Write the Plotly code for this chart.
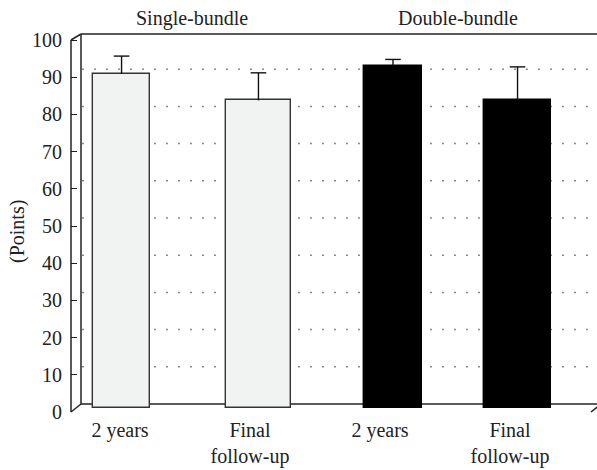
import plotly.graph_objects as go

# Scores by group and time point
categories = ["2 years", "Final<br>follow-up", "2 years", "Final<br>follow-up"]
groups = ["Single-bundle", "Double-bundle"]
scores = [89.8, 82.7, 91.9, 82.8]
score_sd = [4.8, 7.4, 1.8, 8.9]
y_ticks = list(range(0, 101, 10))

# Styling
fills = ["#f1f2f2", "#f1f2f2", "#000000", "#000000"]
outlines = ["#333333", "#333333", "#000000", "#000000"]
bar_widths = [0.44, 0.50, 0.45, 0.515]
bar_shifts = [0.012, 0.065, 0.10, 0.058]
cap_half = 0.06
FONT = "Liberation Serif"
FS = 20
INK = "#222222"

W, H = 597, 470
L, R, T, B = 71, 6, 34, 58
PW, PH = W - L - R, H - T - B
UNIT = 3.72          # pixels per point on the value axis
DX, DY = 10, 8       # depth offset of the back wall (px)
BAR_LIFT = 4         # bars stand mid-way between front edge and back wall (px)

def px(x):
    return (x - L) / PW

def py(y):
    return (H - B - y) / PH

n = len(categories)
pos = list(range(n))
lift = BAR_LIFT / UNIT

fig = go.Figure()
fig.add_trace(go.Bar(
    x=pos, y=scores,
    xaxis="x2", yaxis="y",
    width=bar_widths,
    offset=[s - w / 2 for s, w in zip(bar_shifts, bar_widths)],
    marker=dict(color=fills, line=dict(color=outlines, width=1.4)),
    showlegend=False, hoverinfo="y",
))

# upper whiskers (mean + SD) with caps
wx, wy = [], []
for p, s, v, sd in zip(pos, bar_shifts, scores, score_sd):
    c = p + s
    wx += [c, c, None, c - cap_half, c + cap_half, None]
    wy += [v, v + sd, None, v + sd, v + sd, None]
fig.add_trace(go.Scatter(
    x=wx, y=wy, xaxis="x2", yaxis="y", mode="lines",
    line=dict(color="#111111", width=1.4),
    showlegend=False, hoverinfo="skip",
))

shapes = []
def seg(x0, y0, x1, y1, w=1.5, color=INK, layer="above"):
    shapes.append(dict(type="line", xref="paper", yref="paper",
                       x0=px(x0), y0=py(y0), x1=px(x1), y1=py(y1),
                       line=dict(color=color, width=w), layer=layer))

x_front, x_back = L, L + DX
y_floor = H - B
y_top_front = y_floor - 100 * UNIT
right_front = L + PW
# side wall / back wall frame
seg(x_front, y_floor, x_front, y_top_front)
seg(x_front, y_top_front, x_back, y_top_front - DY + 2)
seg(x_back, T, x_back, y_floor - DY)
seg(x_back, T, W + 5, T)
# floor (back edge sits behind the bars)
seg(x_back, y_floor - DY, W + 5, y_floor - DY, layer="below")
seg(x_front, y_floor, x_back, y_floor - DY)
seg(right_front, y_floor, right_front + DX, y_floor - DY)

# dotted gridlines on the back wall
for v in y_ticks[1:-1]:
    yv = y_floor - DY - v * UNIT
    shapes.append(dict(type="line", xref="paper", yref="paper",
                       x0=px(x_back + 1), x1=px(W + 5), y0=py(yv), y1=py(yv),
                       line=dict(color="#8a8a8a", width=1.5, dash="2px,10px"),
                       layer="below"))

label_shift = 16 / 130
fig.update_layout(
    width=W, height=H,
    margin=dict(l=L, r=R, t=T, b=B, autoexpand=False),
    paper_bgcolor="white", plot_bgcolor="white",
    font=dict(family=FONT, size=FS, color=INK),
    bargap=0,
    xaxis=dict(range=[-0.5, n - 0.5], tickvals=[i + 0.5 for i in range(n - 1)],
               ticks="inside", ticklen=5, tickwidth=1.3, tickcolor=INK,
               showticklabels=False, showline=True, linecolor=INK, linewidth=1.5,
               showgrid=False, zeroline=False, automargin=False),
    xaxis2=dict(overlaying="x", anchor="y", side="bottom",
                range=[-0.5 + label_shift, n - 0.5 + label_shift],
                tickvals=pos, ticktext=categories, ticks="",
                ticklabelstandoff=4, automargin=False,
                showline=False, showgrid=False, zeroline=False,
                tickfont=dict(family=FONT, size=FS, color=INK)),
    # front-edge scale: 0 sits BAR_LIFT px below the bars' base
    yaxis=dict(range=[-lift, PH / UNIT - lift],
               tickvals=[t - lift for t in y_ticks],
               ticktext=[str(t) for t in y_ticks],
               ticks="inside", ticklen=6, tickwidth=1.3, tickcolor=INK,
               ticklabelstandoff=8, automargin=False,
               showline=False, showgrid=False, zeroline=False,
               tickfont=dict(family=FONT, size=FS, color=INK)),
    shapes=shapes,
    annotations=[
        dict(text="(Points)", textangle=-90, xref="paper", yref="paper",
             x=px(17), y=py(232), xanchor="center", yanchor="middle",
             showarrow=False, font=dict(family=FONT, size=FS, color=INK)),
        dict(text=groups[0], xref="paper", yref="paper", x=px(192), y=py(18),
             xanchor="center", yanchor="middle",
             showarrow=False, font=dict(family=FONT, size=FS, color=INK)),
        dict(text=groups[1], xref="paper", yref="paper", x=px(458), y=py(18),
             xanchor="center", yanchor="middle",
             showarrow=False, font=dict(family=FONT, size=FS, color=INK)),
    ],
)

fig.write_html("out.html")
